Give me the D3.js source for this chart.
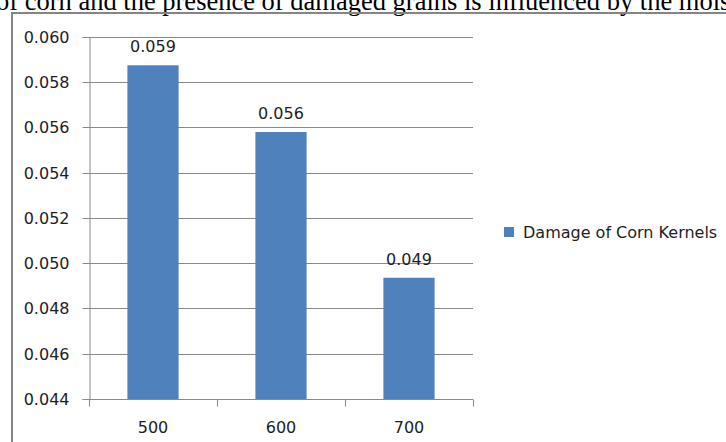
<!DOCTYPE html>
<html>
<head>
<meta charset="utf-8">
<script src="https://cdn.jsdelivr.net/npm/d3@7"></script>
<style>
  html, body { margin: 0; padding: 0; background: #fff; overflow: hidden; }
  svg { display: block; }
</style>
</head>
<body>
<svg id="chart" width="726" height="442"></svg>
<script>
// Surrounding document line and chart data
const captionText = "of corn and the presence of damaged grains is influenced by the moisture";
const categories = ["500", "600", "700"];
const damageValues = [0.05875, 0.0558, 0.04936];
const seriesName = "Damage of Corn Kernels";
const yTicks = [0.044, 0.046, 0.048, 0.050, 0.052, 0.054, 0.056, 0.058, 0.060];

const svg = d3.select("#chart");
const chartFont = "'DejaVu Sans', sans-serif";
const textColor = "#1e1e1e";
const gridColor = "#8a8a8a";
const barColor = "#4F81BD";

// Caption line from the page above the chart
svg.append("text")
  .attr("x", -4)
  .attr("y", 9.5)
  .attr("font-family", "'Liberation Serif', 'Times New Roman', serif")
  .attr("font-size", 26.5)
  .attr("fill", "#000")
  .text(captionText);

// Chart frame
svg.append("rect")
  .attr("x", 12).attr("y", 13)
  .attr("width", 800).attr("height", 500)
  .attr("fill", "none")
  .attr("stroke", "#858585")
  .attr("stroke-width", 2);

const x = d3.scaleBand().domain(categories).range([89, 473]).padding(0);
const y = d3.scaleLinear().domain([0.044, 0.060]).range([399, 37]);
const barRatio = 0.4;

// Horizontal gridlines
svg.append("g")
  .selectAll("line")
  .data(yTicks)
  .join("line")
  .attr("x1", 89).attr("x2", 473)
  .attr("y1", d => Math.round(y(d)) + 0.5)
  .attr("y2", d => Math.round(y(d)) + 0.5)
  .attr("stroke", gridColor)
  .attr("stroke-width", 1);

// Y axis
const yAxis = svg.append("g")
  .attr("transform", "translate(89.5,0)")
  .call(d3.axisLeft(y).tickValues(yTicks).tickFormat(d3.format(".3f")).tickSize(7).tickPadding(13));
yAxis.select(".domain").attr("stroke", gridColor);
yAxis.selectAll(".tick line").attr("stroke", gridColor);
yAxis.selectAll(".tick").attr("transform", d => `translate(0,${Math.round(y(d)) + 0.5})`);
yAxis.selectAll("text")
  .attr("font-family", chartFont)
  .attr("font-size", 16)
  .attr("fill", textColor);

// X axis with boundary ticks between categories
const xAxisG = svg.append("g").attr("transform", `translate(0,${Math.round(y(0.044)) + 0.5})`);
xAxisG.append("line")
  .attr("x1", 89).attr("x2", 473)
  .attr("stroke", gridColor);
const boundaries = [x.range()[0]].concat(categories.map(c => x(c) + x.bandwidth()));
xAxisG.selectAll("line.bound")
  .data(boundaries)
  .join("line")
  .attr("class", "bound")
  .attr("x1", d => Math.round(d) + 0.5).attr("x2", d => Math.round(d) + 0.5)
  .attr("y1", 0).attr("y2", 7)
  .attr("stroke", gridColor);
xAxisG.selectAll("text")
  .data(categories)
  .join("text")
  .attr("x", d => x(d) + x.bandwidth() / 2)
  .attr("y", 33)
  .attr("text-anchor", "middle")
  .attr("font-family", chartFont)
  .attr("font-size", 16)
  .attr("fill", textColor)
  .text(d => d);

// Bars
const bw = x.bandwidth() * barRatio;
svg.append("g")
  .selectAll("rect")
  .data(categories)
  .join("rect")
  .attr("x", d => x(d) + (x.bandwidth() - bw) / 2)
  .attr("y", (d, i) => y(damageValues[i]))
  .attr("width", bw)
  .attr("height", (d, i) => y(0.044) - y(damageValues[i]))
  .attr("fill", barColor);

// Value labels
svg.append("g")
  .selectAll("text")
  .data(categories)
  .join("text")
  .attr("x", d => x(d) + x.bandwidth() / 2)
  .attr("y", (d, i) => y(damageValues[i]) - 13)
  .attr("text-anchor", "middle")
  .attr("font-family", chartFont)
  .attr("font-size", 16)
  .attr("fill", textColor)
  .text((d, i) => d3.format(".3f")(damageValues[i]));

// Legend
const legend = svg.append("g").attr("transform", "translate(504,227)");
legend.append("rect")
  .attr("width", 10).attr("height", 10)
  .attr("fill", barColor);
legend.append("text")
  .attr("x", 19).attr("y", 10.5)
  .attr("font-family", chartFont)
  .attr("font-size", 16)
  .attr("fill", textColor)
  .text(seriesName);
</script>
</body>
</html>
